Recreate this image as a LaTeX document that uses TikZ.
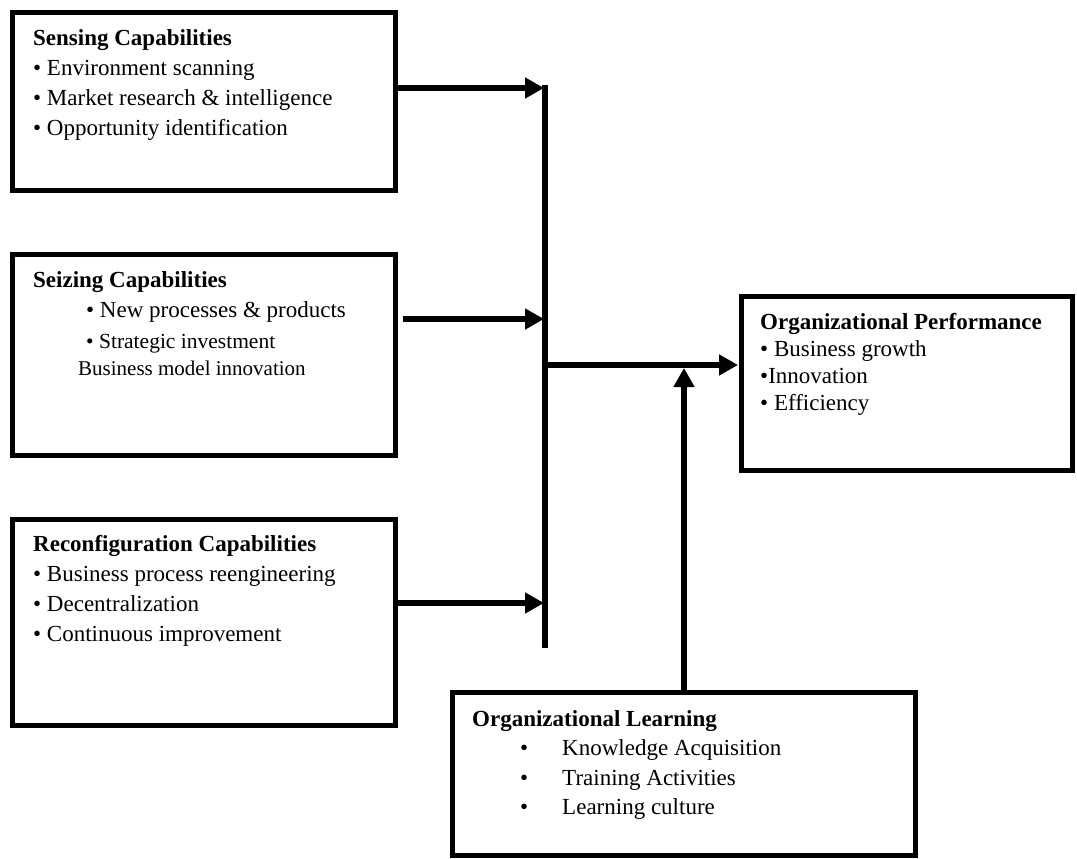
\documentclass[tikz,border=0pt]{standalone}
\usepackage{fontspec}
\setmainfont{Liberation Serif}
\usetikzlibrary{arrows.meta}
\begin{document}
\begin{tikzpicture}[x=1pt,y=-1pt,
  box/.style={draw, line width=5pt, anchor=north west, inner sep=0pt},
  txt/.style={anchor=north west, inner sep=0pt, align=left, font=\fontsize{23}{30}\selectfont},
  conn/.style={line width=6pt, -{Triangle[length=19pt,width=20pt]}},
  busline/.style={line width=6pt}]
\useasboundingbox (0,0) rectangle (1077,859);
% boxes
\node[box, minimum width=383pt, minimum height=178pt] (sens) at (10,10) {};
\node[box, minimum width=383pt, minimum height=201pt] (seiz) at (10,252) {};
\node[box, minimum width=383pt, minimum height=206pt] (reco) at (10,517) {};
\node[box, minimum width=331pt, minimum height=174pt] (perf) at (739,294) {};
\node[box, minimum width=463pt, minimum height=163pt] (lear) at (450,690) {};
% texts
\node[txt] (sensT) at (33,29) {\textbf{Sensing Capabilities}\\
• Environment scanning\\
• Market research \& intelligence\\
• Opportunity identification};
\node[txt] (seizT) at (33,271) {\textbf{Seizing Capabilities}\\
\hspace*{53pt}• New processes \& products\\[1pt]
\hspace*{53pt}{\fontsize{21.5}{30}\selectfont • Strategic investment}\\[-3pt]
\hspace*{45pt}{\fontsize{21}{30}\selectfont Business model innovation}};
\node[txt] (recoT) at (33,535) {\textbf{Reconfiguration Capabilities}\\
• Business process reengineering\\
• Decentralization\\
• Continuous improvement};
\node[txt, font=\fontsize{23}{27}\selectfont] (perfT) at (760,313) {\textbf{Organizational Performance}\\
• Business growth\\
•Innovation\\
• Efficiency};
\node[txt, font=\fontsize{23}{29.5}\selectfont] (learT) at (472,710) {\textbf{Organizational Learning}\\
\hspace*{48pt}•\hspace{34pt}Knowledge Acquisition\\
\hspace*{48pt}•\hspace{34pt}Training Activities\\
\hspace*{48pt}•\hspace{34pt}Learning culture};
% bus and junctions
\coordinate (busTop) at (545,85);
\coordinate (busBot) at (545,648);
\coordinate (j1) at (545,88);
\coordinate (j2) at (545,319);
\coordinate (j3) at (545,603);
\coordinate (jm) at (545,365);
\coordinate (jl) at (684,368);
\draw[busline] (busTop) -- (busBot);
\draw[conn] (j1 -| sens.east) -- ([xshift=-1pt]j1);
\draw[conn] ([xshift=5pt]j2 -| seiz.east) -- ([xshift=-1pt]j2);
\draw[conn] (j3 -| reco.east) -- ([xshift=-1pt]j3);
\draw[conn] (jm) -- ([xshift=-1pt]jm -| perf.west);
\draw[conn] (jl |- lear.north) -- (jl);
\end{tikzpicture}
\end{document}
